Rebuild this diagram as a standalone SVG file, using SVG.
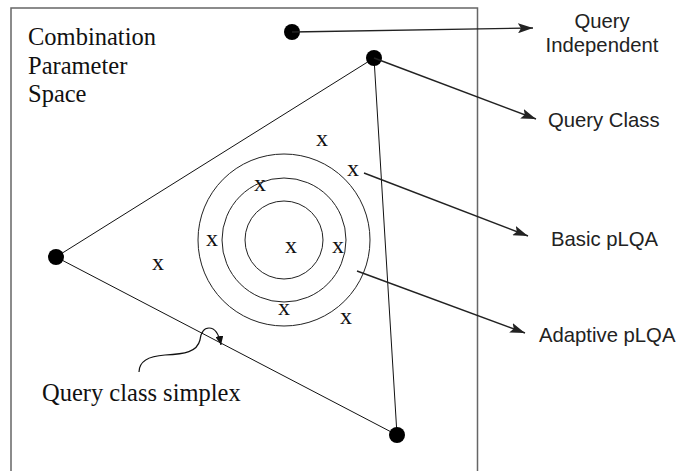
<svg xmlns="http://www.w3.org/2000/svg" width="680" height="471" viewBox="0 0 680 471">
<style>
.frame{fill:none;stroke:#666;stroke-width:1.5}
.edge{fill:none;stroke:#111;stroke-width:1}
.ring{fill:none;stroke:#222;stroke-width:1}
.dot{fill:#000}
.arr{fill:none;stroke:#222;stroke-width:1.4;marker-end:url(#ah)}
.serif{font-family:"Liberation Serif","Times New Roman",serif;font-size:24.5px;fill:#111}
.mark{font-family:"Liberation Serif","Times New Roman",serif;font-size:24px;fill:#111;text-anchor:middle}
.sans{font-family:"Liberation Sans",Arial,sans-serif;font-size:20.3px;fill:#222}
</style>
<defs>
<marker id="ah" markerUnits="userSpaceOnUse" markerWidth="16" markerHeight="10" refX="15" refY="5" orient="auto">
<path d="M0,0 L15,5 L0,10 L3,5 z" fill="#222"/>
</marker>
<marker id="ah2" markerUnits="userSpaceOnUse" markerWidth="10" markerHeight="8" refX="9" refY="4" orient="auto">
<path d="M0,0 L9,4 L0,8 z" fill="#111"/>
</marker>
</defs>
<g id="space">
<path class="frame" d="M11,471 V8 H477.5 V471"/>
<text class="serif" x="28" y="45">Combination</text>
<text class="serif" x="28" y="74">Parameter</text>
<text class="serif" x="28" y="102">Space</text>
</g>
<g id="simplex">
<path class="edge" d="M374,58 L56,257 L397,435 Z"/>
<text class="serif" x="42" y="401">Query class simplex</text>
</g>
<g id="query-independent"><circle class="dot" cx="292" cy="32" r="8"/></g>
<g id="vertex-top"><circle class="dot" cx="374" cy="58" r="8"/></g>
<g id="vertex-left"><circle class="dot" cx="56" cy="257" r="8"/></g>
<g id="vertex-bottom"><circle class="dot" cx="397" cy="435" r="8"/></g>
<g id="rings">
<circle class="ring" cx="284" cy="240" r="86"/>
<circle class="ring" cx="284" cy="240" r="62"/>
<circle class="ring" cx="284" cy="240" r="39"/>
</g>
<g id="samples">
<text class="mark" x="322" y="146">x</text>
<text class="mark" x="353" y="176">x</text>
<text class="mark" x="260" y="191">x</text>
<text class="mark" x="212" y="246">x</text>
<text class="mark" x="291" y="253">x</text>
<text class="mark" x="338" y="253">x</text>
<text class="mark" x="284" y="315">x</text>
<text class="mark" x="346" y="324">x</text>
<text class="mark" x="158" y="270">x</text>
</g>
<g id="label-query-independent">
<text class="sans" x="602" y="28" text-anchor="middle">Query</text>
<text class="sans" x="602" y="52" text-anchor="middle">Independent</text>
</g>
<g id="label-query-class"><text class="sans" x="548" y="127">Query Class</text></g>
<g id="label-basic"><text class="sans" x="551" y="246">Basic pLQA</text></g>
<g id="label-adaptive"><text class="sans" x="539" y="342">Adaptive pLQA</text></g>
<g id="connectors">
<line class="arr" x1="292" y1="32" x2="533" y2="28"/>
<line class="arr" x1="374" y1="58" x2="536" y2="119"/>
<line class="arr" x1="364" y1="173" x2="528" y2="236"/>
<line class="arr" x1="357" y1="271" x2="525" y2="333"/>
<path d="M139,372 C139,360 150,356 165,355 C185,354 197,352 200,340 C201,332 204,328 209,328 C215,328 219,334 221,345" fill="none" stroke="#111" stroke-width="1.2" marker-end="url(#ah2)"/>
</g>
</svg>
